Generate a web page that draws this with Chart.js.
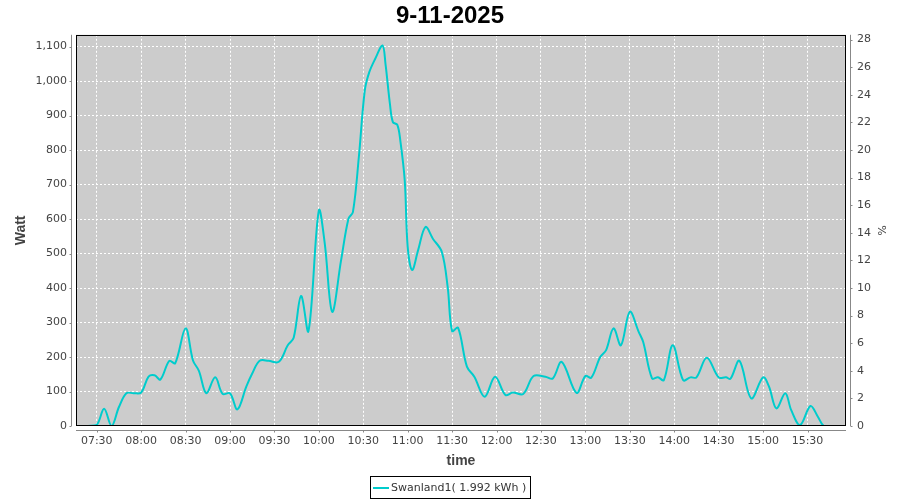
<!DOCTYPE html>
<html>
<head>
<meta charset="utf-8">
<title>9-11-2025</title>
<script src="https://cdn.jsdelivr.net/npm/chart.js@4"></script>
<style>
  html, body { margin: 0; padding: 0; background: #fff; }
  #wrap { width: 900px; height: 500px; }
</style>
</head>
<body>
<div id="wrap"><canvas id="powerChart" width="900" height="500"></canvas></div>
<script>
// Readings of the day (time of sample, power in Watt)
const times = ['07:24', '07:30', '07:35', '07:40', '07:45', '07:50', '07:55', '08:00', '08:05', '08:09',
  '08:13', '08:19', '08:23', '08:30', '08:35', '08:39', '08:44', '08:50', '08:55', '09:00',
  '09:05', '09:11', '09:15', '09:20', '09:26', '09:33', '09:39', '09:43', '09:48', '09:53',
  '10:00', '10:04', '10:09', '10:15', '10:20', '10:23', '10:27', '10:31', '10:34', '10:38',
  '10:43', '10:45', '10:48', '10:50', '10:53', '10:55', '10:58', '11:00', '11:03', '11:07',
  '11:12', '11:17', '11:23', '11:27', '11:30', '11:34', '11:40', '11:45', '11:52', '11:59',
  '12:06', '12:11', '12:18', '12:25', '12:33', '12:38', '12:44', '12:54', '13:00', '13:04',
  '13:10', '13:14', '13:19', '13:24', '13:30', '13:36', '13:39', '13:45', '13:49', '13:53',
  '13:59', '14:06', '14:11', '14:15', '14:22', '14:30', '14:35', '14:38', '14:44', '14:52',
  '15:00', '15:04', '15:09', '15:15', '15:19', '15:25', '15:32', '15:37', '15:41', '15:46'];
const watt = [0, 3, 50, 0, 55, 95, 95, 97, 143, 147,
  135, 189, 182, 283, 190, 160, 95, 141, 93, 95,
  48, 114, 152, 189, 189, 186, 234, 256, 377, 275,
  625, 529, 331, 480, 601, 620, 779, 972, 1025, 1064,
  1103, 1050, 934, 881, 873, 828, 712, 519, 452, 509,
  577, 543, 505, 403, 275, 285, 172, 143, 85, 143,
  90, 97, 93, 145, 143, 138, 186, 96, 145, 140,
  200, 220, 283, 234, 331, 273, 244, 138, 141, 133,
  234, 133, 141, 141, 198, 141, 141, 137, 189, 80,
  141, 114, 51, 95, 46, 3, 58, 27, 0, 0];

const timeTicks = ['07:30', '08:00', '08:30', '09:00', '09:30', '10:00', '10:30', '11:00', '11:30',
  '12:00', '12:30', '13:00', '13:30', '14:00', '14:30', '15:00', '15:30'];
const wattTicks = [0, 100, 200, 300, 400, 500, 600, 700, 800, 900, 1000, 1100];
const pctTicks = [0, 2, 4, 6, 8, 10, 12, 14, 16, 18, 20, 22, 24, 26, 28];

const seriesName = 'Swanland1( 1.992 kWh )';
const chartTitle = '9-11-2025';

// axis ranges
const xMin = '07:16', xMax = '15:56';
const wattMax = 1134;
const pctMax = wattMax / 40;

function toMin(t) {
    var p = t.split(':');
    return parseInt(p[0], 10) * 60 + parseInt(p[1], 10);
}

function toTime(m) {
    var h = Math.floor(m / 60), mm = m % 60;
    return (h < 10 ? '0' : '') + h + ':' + (mm < 10 ? '0' : '') + mm;
}

const tickFont = { family: 'DejaVu Sans', size: 11 };
const tickColor = '#444';
const axisColor = '#888';
const lineColor = '#00CCCC';

// grey plot background under the grid
const plotBackground = {
    id: 'plotBackground',
    beforeDraw(chart) {
        const { ctx, chartArea: a } = chart;
        ctx.save();
        ctx.fillStyle = '#CCCCCC';
        ctx.fillRect(a.left, a.top, a.right - a.left, a.bottom - a.top);
        ctx.restore();
    }
};

// black frame, offset axis lines with small tick marks, and the boxed legend
const frameAndLegend = {
    id: 'frameAndLegend',
    afterDraw(chart) {
        const { ctx, chartArea: a } = chart;
        ctx.save();
        ctx.strokeStyle = '#000';
        ctx.lineWidth = 1;
        ctx.strokeRect(Math.round(a.left) + 0.5, Math.round(a.top) + 0.5,
            Math.round(a.right - a.left) - 1, Math.round(a.bottom - a.top) - 1);

        ctx.strokeStyle = axisColor;
        ctx.beginPath();
        const lx = Math.round(a.left) - 4.5;
        ctx.moveTo(lx, a.top); ctx.lineTo(lx, a.bottom);
        const rx = Math.round(a.right) + 4.5;
        ctx.moveTo(rx, a.top); ctx.lineTo(rx, a.bottom);
        const by = Math.round(a.bottom) + 4.5;
        ctx.moveTo(a.left, by); ctx.lineTo(a.right, by);

        chart.scales.y.ticks.forEach(t => {
            const py = Math.round(chart.scales.y.getPixelForValue(t.value)) + 0.5;
            ctx.moveTo(lx - 2, py); ctx.lineTo(lx, py);
        });
        chart.scales.y2.ticks.forEach(t => {
            const py = Math.round(chart.scales.y2.getPixelForValue(t.value)) + 0.5;
            ctx.moveTo(rx, py); ctx.lineTo(rx + 2, py);
        });
        chart.scales.x.ticks.forEach(t => {
            const px = Math.round(chart.scales.x.getPixelForValue(t.value)) + 0.5;
            ctx.moveTo(px, by); ctx.lineTo(px, by + 2);
        });
        ctx.stroke();

        // legend
        ctx.font = '11px "DejaVu Sans"';
        const tw = ctx.measureText(seriesName).width;
        const bw = 3 + 16 + 2 + tw + 4;
        const bh = 22;
        const bx = Math.round(chart.width / 2 - bw / 2) + 0.5;
        const byy = 476.5;
        ctx.strokeStyle = '#000';
        ctx.strokeRect(bx, byy, Math.round(bw), bh);
        ctx.strokeStyle = lineColor;
        ctx.lineWidth = 2;
        ctx.beginPath();
        ctx.moveTo(bx + 2.5, byy + 11.5);
        ctx.lineTo(bx + 18.5, byy + 11.5);
        ctx.stroke();
        ctx.fillStyle = '#333';
        ctx.textBaseline = 'middle';
        ctx.textAlign = 'left';
        ctx.fillText(seriesName, bx + 20.5, byy + 11.5);
        ctx.restore();
    }
};

document.addEventListener('DOMContentLoaded', function() {
    var ctx = document.getElementById('powerChart').getContext('2d');

    var powerChart = new Chart(ctx, {
        type: 'line',
        data: {
            datasets: [{
                label: seriesName,
                data: times.map((t, i) => ({ x: toMin(t), y: watt[i] })),
                borderColor: lineColor,
                backgroundColor: lineColor,
                borderWidth: 2,
                pointRadius: 0,
                tension: 0.35,
                fill: false,
                yAxisID: 'y'
            }]
        },
        options: {
            responsive: false,
            animation: false,
            devicePixelRatio: 1,
            layout: { padding: { top: 0, left: 0, right: 0, bottom: 29 } },
            plugins: {
                legend: { display: false },
                tooltip: { enabled: false },
                title: {
                    display: true,
                    text: chartTitle,
                    color: '#000',
                    font: { family: 'Liberation Sans', size: 24, weight: 'bold', lineHeight: 1.2 },
                    padding: { top: 2, bottom: 4 }
                }
            },
            scales: {
                x: {
                    type: 'linear',
                    min: toMin(xMin),
                    max: toMin(xMax),
                    afterBuildTicks: s => { s.ticks = timeTicks.map(t => ({ value: toMin(t) })); },
                    afterFit: s => { s.height = 45; },
                    ticks: {
                        autoSkip: false,
                        maxRotation: 0,
                        padding: 9,
                        color: tickColor,
                        font: tickFont,
                        callback: v => toTime(v)
                    },
                    grid: { color: '#fff', lineWidth: 1, drawTicks: false },
                    border: { display: false, dash: [2, 2] },
                    title: {
                        display: true,
                        text: 'time',
                        color: '#444',
                        font: { family: 'Liberation Sans', size: 14, weight: 'bold' },
                        padding: { top: 0, bottom: 1 }
                    }
                },
                y: {
                    position: 'left',
                    min: 0,
                    max: wattMax,
                    afterBuildTicks: s => { s.ticks = wattTicks.map(v => ({ value: v })); },
                    afterFit: s => { s.width = 76; },
                    ticks: {
                        padding: 9,
                        color: tickColor,
                        font: tickFont,
                        callback: v => v.toLocaleString('en-US')
                    },
                    grid: { color: '#fff', lineWidth: 1, drawTicks: false },
                    border: { display: false, dash: [2, 2] },
                    title: {
                        display: true,
                        text: 'Watt',
                        color: '#444',
                        font: { family: 'Liberation Sans', size: 14, weight: 'bold' },
                        padding: { top: 12.6, bottom: 0 }
                    }
                },
                y2: {
                    position: 'right',
                    min: 0,
                    max: pctMax,
                    afterBuildTicks: s => { s.ticks = pctTicks.map(v => ({ value: v })); },
                    afterFit: s => { s.width = 54; },
                    ticks: {
                        padding: 11,
                        color: tickColor,
                        font: tickFont
                    },
                    grid: { display: false, drawTicks: false },
                    border: { display: false },
                    title: {
                        display: true,
                        text: '%',
                        color: '#444',
                        font: { family: 'DejaVu Sans', size: 11 },
                        padding: { top: 13, bottom: 0 }
                    }
                }
            }
        },
        plugins: [plotBackground, frameAndLegend]
    });
});
</script>
</body>
</html>
